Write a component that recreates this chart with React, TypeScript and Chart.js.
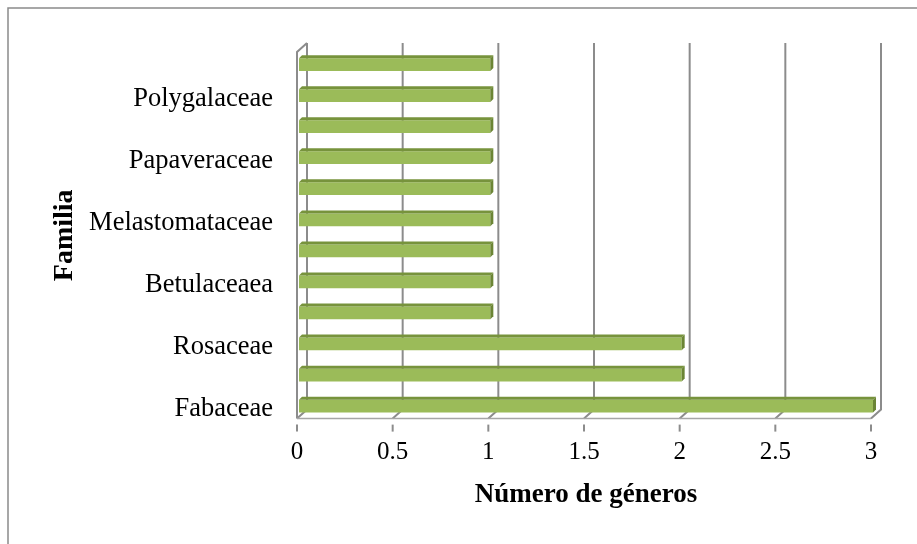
import React, { useEffect, useRef } from 'react';
import { Chart, registerables } from 'chart.js';

Chart.register(...registerables);

// Categories from bottom (first) to top (last); only every other label is shown.
const families = [
  'Fabaceae',
  'Asteraceae',
  'Rosaceae',
  'Ericaceae',
  'Betulaceaea',
  'Lauraceae',
  'Melastomataceae',
  'Myrtaceae',
  'Papaveraceae',
  'Piperaceae',
  'Polygalaceae',
  'Solanaceae',
];
const genera = [3, 2, 2, 1, 1, 1, 1, 1, 1, 1, 1, 1];
const xTickValues = [0, 0.5, 1, 1.5, 2, 2.5, 3];
const xTitle = 'Número de géneros';
const yTitle = 'Familia';

const FONT = '"Liberation Serif", "Times New Roman", serif';
const GRID = '#8C8C8C';

const depthPlugin = {
  id: 'depth3d',
  beforeDraw(chart: any) {
    const ctx = chart.ctx;
    const xs = chart.scales.x;
    const ca = chart.chartArea;
    ctx.save();
    ctx.fillStyle = '#ffffff';
    ctx.fillRect(0, 0, chart.width, chart.height);
    // outer chart border (left and top visible)
    ctx.strokeStyle = '#8A8A8A';
    ctx.lineWidth = 1.5;
    ctx.beginPath();
    ctx.moveTo(8, chart.height);
    ctx.lineTo(8, 8);
    ctx.lineTo(chart.width, 8);
    ctx.stroke();

    const DX = 10;
    const DY = 9;
    const wallTop = ca.top - 6;
    const floorFront = ca.bottom - 3;
    const floorBack = floorFront - DY;
    ctx.strokeStyle = GRID;
    ctx.lineWidth = 2;
    ctx.lineCap = 'butt';
    xTickValues.forEach((v) => {
      const xb = xs.getPixelForValue(v) + 8;
      const xf = xb - DX;
      ctx.beginPath();
      ctx.moveTo(xb, wallTop);
      ctx.lineTo(xb, floorBack);
      ctx.lineTo(xf, floorFront);
      ctx.stroke();
      ctx.beginPath();
      ctx.moveTo(xf, floorFront + 6);
      ctx.lineTo(xf, floorFront + 13);
      ctx.stroke();
    });
    const xb0 = xs.getPixelForValue(0) + 8;
    const xf0 = xb0 - DX;
    const xfEnd = xs.getPixelForValue(3) + 8 - DX;
    // left side wall
    ctx.beginPath();
    ctx.moveTo(xf0, floorFront);
    ctx.lineTo(xf0, wallTop + DY);
    ctx.lineTo(xb0, wallTop);
    ctx.stroke();
    // floor front edge
    ctx.lineWidth = 1.5;
    ctx.strokeStyle = '#A6A6A6';
    ctx.beginPath();
    ctx.moveTo(xf0, floorFront);
    ctx.lineTo(xfEnd, floorFront);
    ctx.stroke();
    ctx.restore();
  },
  afterDatasetsDraw(chart: any) {
    const ctx = chart.ctx;
    const meta = chart.getDatasetMeta(0);
    const d = 3;
    ctx.save();
    meta.data.forEach((bar: any) => {
      const { x, y, base, height } = bar.getProps(['x', 'y', 'base', 'height'], true);
      const top = y - height / 2;
      const bottom = y + height / 2;
      // top face
      ctx.fillStyle = '#77933C';
      ctx.beginPath();
      ctx.moveTo(base, top);
      ctx.lineTo(x, top);
      ctx.lineTo(x + d, top - d);
      ctx.lineTo(base + d, top - d);
      ctx.closePath();
      ctx.fill();
      // side face
      ctx.fillStyle = '#6B8535';
      ctx.beginPath();
      ctx.moveTo(x, top);
      ctx.lineTo(x + d, top - d);
      ctx.lineTo(x + d, bottom - d);
      ctx.lineTo(x, bottom);
      ctx.closePath();
      ctx.fill();
    });
    ctx.restore();
  },
};

export default function App() {
  const ref = useRef<HTMLCanvasElement | null>(null);

  useEffect(() => {
    document.body.style.margin = '0';
    const canvas = ref.current;
    if (!canvas) return;
    const chart = new Chart(canvas, {
      type: 'bar',
      data: {
        labels: families,
        datasets: [
          {
            label: xTitle,
            data: genera,
            backgroundColor: '#9BBB59',
            borderWidth: 0,
            barPercentage: 0.41,
            categoryPercentage: 1,
          },
        ],
      },
      options: {
        indexAxis: 'y',
        responsive: false,
        animation: false,
        devicePixelRatio: 1,
        layout: { padding: { left: 0, right: 44, top: 49, bottom: 0 } },
        plugins: { legend: { display: false }, tooltip: { enabled: false } },
        scales: {
          x: {
            type: 'linear',
            min: 0,
            max: 3,
            afterBuildTicks: (scale: any) => {
              scale.ticks = xTickValues.map((v) => ({ value: v }));
            },
            afterFit: (scale: any) => {
              scale.height = 122.4;
            },
            grid: { display: false, drawTicks: false },
            border: { display: false },
            ticks: {
              font: { family: FONT, size: 25 },
              color: '#000000',
              padding: 16,
              labelOffset: -2,
              maxRotation: 0,
              autoSkip: false,
              callback: (v: any) => String(v),
            },
            title: {
              display: true,
              text: xTitle,
              color: '#000000',
              font: { family: FONT, size: 27, weight: 'bold' },
              padding: { top: 0, bottom: 33 },
            },
          },
          y: {
            reverse: true,
            afterFit: (scale: any) => {
              scale.width = 299;
            },
            grid: { display: false, drawTicks: false },
            border: { display: false },
            ticks: {
              font: { family: FONT, size: 26.5 },
              color: '#000000',
              padding: 26,
              labelOffset: 3,
              autoSkip: false,
              callback: (_v: any, i: number) => (i % 2 === 0 ? families[i] : ''),
            },
            title: {
              display: true,
              text: yTitle,
              color: '#000000',
              font: { family: FONT, size: 28, weight: 'bold' },
              padding: { top: 48, bottom: 0 },
            },
          },
        },
      },
      plugins: [depthPlugin],
    });
    return () => chart.destroy();
  }, []);

  return (
    <div style={{ width: 917, height: 544, background: '#ffffff' }}>
      <canvas ref={ref} width={917} height={544} style={{ display: 'block' }} />
    </div>
  );
}
